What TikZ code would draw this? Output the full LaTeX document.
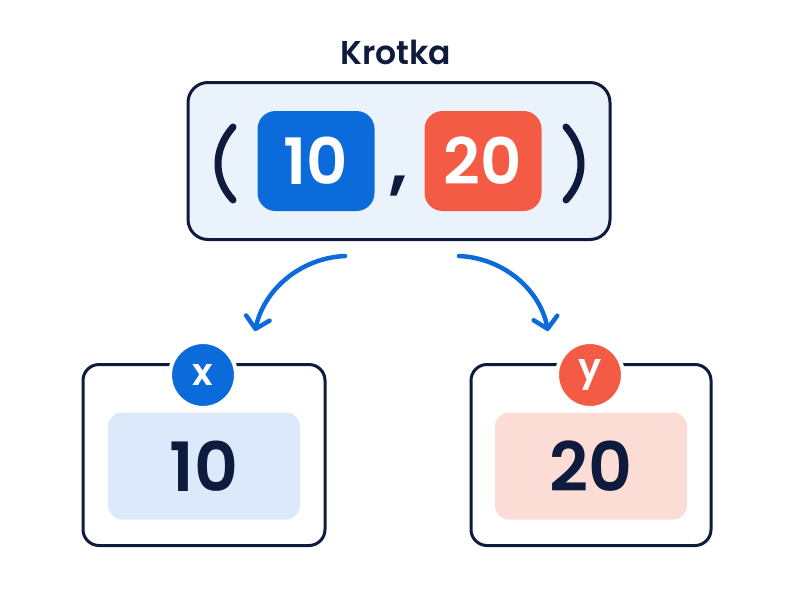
\documentclass[tikz,border=0pt]{standalone}
\usepackage{fontspec}
\setmainfont{Poppins}[BoldFont={Poppins SemiBold}]
\usetikzlibrary{arrows.meta,positioning}
\definecolor{navy}{HTML}{0F1B3D}
\definecolor{tupleblue}{HTML}{0B6BDB}
\definecolor{tuplered}{HTML}{F45B45}
\definecolor{paleblue}{HTML}{EAF2FC}
\definecolor{softblue}{HTML}{DCE9FB}
\definecolor{softred}{HTML}{FCDDD6}
\begin{document}
\begin{tikzpicture}[
  x=1pt, y=-1pt,
  frame/.style={draw=navy, line width=3pt, rounded corners=16pt},
  item/.style={rounded corners=18pt, minimum width=117pt, minimum height=100pt, text=white, font=\bfseries\fontsize{64}{64}\selectfont},
  slot/.style={rounded corners=14pt, minimum width=192pt, minimum height=107pt, text=navy, font=\bfseries\fontsize{68}{68}\selectfont},
  tag/.style={circle, draw=white, line width=4pt, minimum size=66pt, inner sep=0pt, text=white, font=\bfseries\fontsize{38}{38}\selectfont},
  unpack/.style={-{Straight Barb[length=11pt,width=24pt,round]}, draw=tupleblue, line width=4.5pt, line cap=round},
  paren/.style={draw=navy, line width=7pt, line cap=round}
]
  \useasboundingbox[fill=white] (0,0) rectangle (800,600);

  % the tuple
  \node[font=\bfseries\fontsize{33}{33}\selectfont, text=navy] (title) at (396,52) {Krotka};
  \node[frame, fill=paleblue, rounded corners=20pt, minimum width=422pt, minimum height=157pt] (tuple) at (399,161) {};
  \node[item, fill=tupleblue] (first) at (316,161) {10};
  \node[item, fill=tuplered] (second) at (483,161) {20};
  \node[anchor=base, text=navy, font=\bfseries\fontsize{72}{72}\selectfont] (comma) at (399,186) {,};
  \draw[paren] (233,127) .. controls (213,150) and (213,178) .. (233,200);
  \draw[paren] (566,127) .. controls (586,150) and (586,178) .. (566,200);

  % the two variables
  \node[frame, fill=white, minimum width=242pt, minimum height=181pt] (xbox) at (204,455) {};
  \node[slot, fill=softblue] (xval) at (204,466) {10};
  \node[tag, fill=tupleblue] (xtag) at (203,375) {x};
  \node[frame, fill=white, minimum width=240pt, minimum height=181pt] (ybox) at (591,455) {};
  \node[slot, fill=softred] (yval) at (591,466) {20};
  \node[tag, fill=tuplered] (ytag) at (590,375) {y};

  % unpacking
  \coordinate (xfrom) at (345,256);
  \coordinate (yfrom) at (459,256);
  \coordinate (xto) at (255,331);
  \coordinate (yto) at (548,331);
  \draw[unpack] (xfrom) .. controls (300,258) and (264,290) .. (xto);
  \draw[unpack] (yfrom) .. controls (504,258) and (540,290) .. (yto);
\end{tikzpicture}
\end{document}
